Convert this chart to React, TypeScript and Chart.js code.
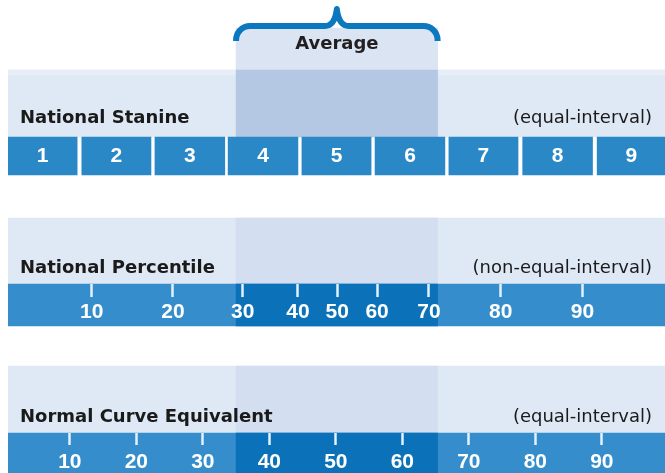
import { useEffect, useRef } from 'react';
import { Chart, registerables } from 'chart.js';

Chart.register(...registerables);

// ---- data (x values are on the Normal Curve Equivalent scale) ----
const STANINE_LABELS = ['1', '2', '3', '4', '5', '6', '7', '8', '9'];
const STANINE_START_NCE = [0.7, 11.8, 22.8, 33.8, 44.9, 55.9, 67.0, 78.1, 89.3];
const STANINE_END_NCE = [11.1, 22.2, 33.3, 44.3, 55.3, 66.4, 77.4, 88.6, 99.6];
const PERCENTILE_LABELS = [10, 20, 30, 40, 50, 60, 70, 80, 90];
const PERCENTILE_AT_NCE = [13.3, 25.5, 36.0, 44.3, 50.2, 56.2, 64.0, 74.8, 87.1];
const NCE_LABELS = [10, 20, 30, 40, 50, 60, 70, 80, 90];
const AVERAGE_NCE: [number, number] = [35.0, 65.3];
const NCE_EXTENT: [number, number] = [0.7, 99.5];
const SCALE_TITLES = ['National Stanine', 'National Percentile', 'Normal Curve Equivalent'];
const SCALE_NOTES = ['(equal-interval)', '(non-equal-interval)', '(equal-interval)'];
const AVERAGE_LABEL = 'Average';

// ---- layout (vertical rows, in layout units of the hidden y scale) ----
const LAYOUT = {
  height: 473,
  avgTop: [28, 70] as [number, number],
  stanineBand: [70, 137] as [number, number],
  stanineStripe: [70, 75] as [number, number],
  cells: [137, 175] as [number, number],
  prBand: [218, 284] as [number, number],
  prBar: [284, 326] as [number, number],
  nceBand: [366, 433] as [number, number],
  nceBar: [433, 473] as [number, number],
  titleY: [118, 268, 417],
  averageY: 44,
  brace: { end: 41, bar: 26, tip: 9 },
};

const COLORS = {
  band: '#dfe9f5',
  stripe: '#e7eef8',
  avgTop: '#dae4f2',
  avgStanine: '#b4c7e3',
  avgBand: '#d3dff0',
  cell: '#2a88c7',
  bar: '#358ecb',
  barDark: '#0b72b9',
  brace: '#0a77be',
  text: '#1a1a1a',
  tick: '#e2f1fb',
};

const STANINE_CENTERS = STANINE_START_NCE.map((s, i) => (s + STANINE_END_NCE[i]) / 2);

function rect(
  label: string,
  ranges: [number, number][],
  rows: [number, number],
  color: string,
  order: number,
) {
  return {
    type: 'bar' as const,
    label,
    data: ranges.map((r) => ({ x: r, y: (rows[0] + rows[1]) / 2 })),
    barThickness: rows[1] - rows[0],
    backgroundColor: color,
    borderWidth: 0,
    order,
    stack: 'all',
    xAxisID: 'x',
    yAxisID: 'y',
  };
}

function tickAxis(
  rowY: number,
  positions: number[],
  labels: (string | number)[],
  tickLength: number,
  padding: number,
) {
  return {
    type: 'linear' as const,
    axis: 'x' as const,
    position: { y: rowY },
    min: NCE_EXTENT[0],
    max: NCE_EXTENT[1],
    offset: false,
    afterBuildTicks: (scale: any) => {
      scale.ticks = positions.map((v) => ({ value: v }));
    },
    ticks: {
      autoSkip: false,
      maxRotation: 0,
      minRotation: 0,
      padding,
      color: '#ffffff',
      font: { family: '"Liberation Sans", Arial, sans-serif', size: 21, weight: 'bold' as const },
      callback: (_v: any, i: number) => String(labels[i]),
      z: 3,
    },
    grid: {
      display: tickLength > 0,
      drawOnChartArea: false,
      drawTicks: true,
      tickLength,
      tickWidth: 2.5,
      tickColor: COLORS.tick,
      z: 3,
    },
    border: { display: false },
  };
}

const textPlugin = {
  id: 'scaleText',
  afterDraw(chart: any) {
    const { ctx, chartArea, scales } = chart;
    const x = scales.x;
    const y = scales.y;
    ctx.save();
    ctx.fillStyle = COLORS.text;
    ctx.textBaseline = 'middle';
    ctx.font = 'bold 18px "DejaVu Sans", sans-serif';
    ctx.textAlign = 'left';
    SCALE_TITLES.forEach((t, i) => ctx.fillText(t, chartArea.left + 12, y.getPixelForValue(LAYOUT.titleY[i])));
    ctx.font = '18px "DejaVu Sans", sans-serif';
    ctx.textAlign = 'right';
    SCALE_NOTES.forEach((t, i) => ctx.fillText(t, chartArea.right - 13, y.getPixelForValue(LAYOUT.titleY[i])));

    const xl = x.getPixelForValue(AVERAGE_NCE[0]);
    const xr = x.getPixelForValue(AVERAGE_NCE[1]);
    const xc = (xl + xr) / 2;
    ctx.font = 'bold 18px "DejaVu Sans", sans-serif';
    ctx.textAlign = 'center';
    ctx.fillStyle = '#231f20';
    ctx.fillText(AVERAGE_LABEL, xc, y.getPixelForValue(LAYOUT.averageY));

    const yEnd = y.getPixelForValue(LAYOUT.brace.end);
    const yBar = y.getPixelForValue(LAYOUT.brace.bar);
    const yTip = y.getPixelForValue(LAYOUT.brace.tip);
    ctx.beginPath();
    ctx.moveTo(xl, yEnd);
    ctx.arcTo(xl, yBar, xl + 14, yBar, 14);
    ctx.lineTo(xc - 12, yBar);
    ctx.quadraticCurveTo(xc - 2, yBar, xc, yTip);
    ctx.quadraticCurveTo(xc + 2, yBar, xc + 12, yBar);
    ctx.lineTo(xr - 14, yBar);
    ctx.arcTo(xr, yBar, xr, yEnd, 14);
    ctx.lineTo(xr, yEnd);
    ctx.lineWidth = 6;
    ctx.lineJoin = 'round';
    ctx.strokeStyle = COLORS.brace;
    ctx.stroke();
    ctx.restore();
  },
};

export default function App() {
  const ref = useRef<HTMLCanvasElement | null>(null);

  useEffect(() => {
    if (!ref.current) return;
    const full: [number, number][] = [NCE_EXTENT];
    const avg: [number, number][] = [AVERAGE_NCE];
    const cells: [number, number][] = STANINE_START_NCE.map((s, i) => [s, STANINE_END_NCE[i]]);

    const chart = new Chart(ref.current, {
      type: 'bar',
      data: {
        datasets: [
          rect('stanine band', full, LAYOUT.stanineBand, COLORS.band, 20),
          rect('percentile band', full, LAYOUT.prBand, COLORS.band, 20),
          rect('nce band', full, LAYOUT.nceBand, COLORS.band, 20),
          rect('stanine stripe', full, LAYOUT.stanineStripe, COLORS.stripe, 19),
          rect('average box', avg, LAYOUT.avgTop, COLORS.avgTop, 18),
          rect('average stanine', avg, LAYOUT.stanineBand, COLORS.avgStanine, 17),
          rect('average percentile', avg, LAYOUT.prBand, COLORS.avgBand, 17),
          rect('average nce', avg, LAYOUT.nceBand, COLORS.avgBand, 17),
          rect('percentile bar', full, LAYOUT.prBar, COLORS.bar, 16),
          rect('nce bar', full, LAYOUT.nceBar, COLORS.bar, 16),
          rect('percentile average bar', avg, LAYOUT.prBar, COLORS.barDark, 15),
          rect('nce average bar', avg, LAYOUT.nceBar, COLORS.barDark, 15),
          rect('stanines', cells, LAYOUT.cells, COLORS.cell, 14),
        ] as any,
      },
      options: {
        indexAxis: 'y',
        animation: false,
        responsive: false,
        events: [],
        layout: { padding: { left: 8, right: 0, top: 0, bottom: 0 } },
        plugins: { legend: { display: false }, tooltip: { enabled: false } },
        scales: {
          x: { type: 'linear', min: NCE_EXTENT[0], max: NCE_EXTENT[1], display: false, stacked: false, offset: false },
          y: {
            type: 'linear', min: 0, max: LAYOUT.height, reverse: true, display: false,
            offset: false, grid: { offset: false },
          },
          stanineAxis: tickAxis(LAYOUT.cells[0], STANINE_CENTERS, STANINE_LABELS, 0, 7),
          prAxis: tickAxis(LAYOUT.prBar[0], PERCENTILE_AT_NCE, PERCENTILE_LABELS, 13, 3),
          nceAxis: tickAxis(LAYOUT.nceBar[0], NCE_LABELS, NCE_LABELS, 12, 5),
        } as any,
      },
      plugins: [textPlugin],
    });
    return () => chart.destroy();
  }, []);

  return (
    <canvas
      ref={ref}
      width={665}
      height={473}
      style={{ position: 'absolute', left: 0, top: 0, width: 665, height: 473 }}
    />
  );
}
